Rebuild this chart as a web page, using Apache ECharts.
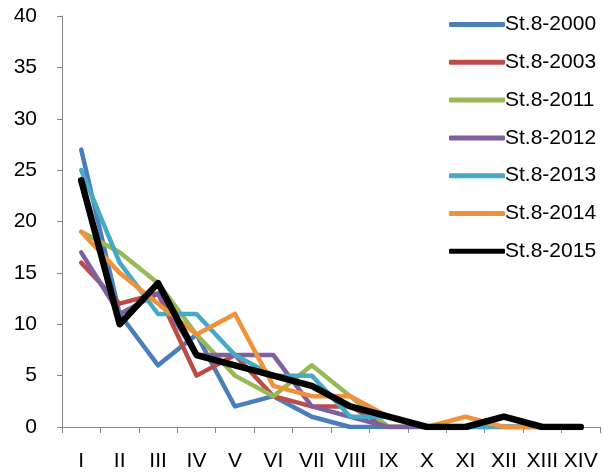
<!DOCTYPE html>
<html>
<head>
<meta charset="utf-8">
<script src="https://cdn.jsdelivr.net/npm/echarts@6/dist/echarts.min.js"></script>
<style>
html,body{margin:0;padding:0;background:#fff;}
#c{width:603px;height:475px;}
</style>
</head>
<body>
<div id="c"></div>
<script>
var categories = ['I','II','III','IV','V','VI','VII','VIII','IX','X','XI','XII','XIII','XIV'];
var yTicks = [0,5,10,15,20,25,30,35,40];
var names = ['St.8-2000','St.8-2003','St.8-2011','St.8-2012','St.8-2013','St.8-2014','St.8-2015'];
var s2000 = [27,11,6,9,2,3,1,0,0,0,0,0,0,0];
var s2003 = [16,12,13,5,7,3,2,2,0,0,0,0,0,0];
var s2011 = [19,17,14,9,5,3,6,3,0,0,0,0,0,0];
var s2012 = [17,11,13,7,7,7,2,1,0,0,0,0,0,0];
var s2013 = [25,16,11,11,7,5,5,1,1,0,0,0,0,0];
var s2014 = [19,15,12,9,11,4,3,3,1,0,1,0,0,0];
var s2015 = [24,10,14,7,6,5,4,2,1,0,0,1,0,0];

var seriesData = [s2000,s2003,s2011,s2012,s2013,s2014,s2015];
var colors = ['#4A7EBB','#BE4B48','#98B954','#7D60A0','#46AAC5','#F0913C','#000000'];
var widths = [4.5,4.5,4.5,4.5,4.5,4.5,6.5];

var FONT = 'Liberation Sans';
var chart = echarts.init(document.getElementById('c'));
chart.setOption({
  animation:false,
  backgroundColor:'#fff',
  color:colors,
  grid:{left:62,right:3,top:16,bottom:48,containLabel:false},
  legend:{
    orient:'vertical',
    left:444, top:9,
    itemWidth:56, itemHeight:5, itemGap:16.8,
    icon:'roundRect',
    textStyle:{fontFamily:FONT,fontSize:21,color:'#000',padding:[0,0,0,-5]},
    data:names
  },
  xAxis:{
    type:'category',
    data:categories,
    boundaryGap:true,
    axisLine:{lineStyle:{color:'#868686',width:1}},
    axisTick:{show:true,length:6,alignWithLabel:false,lineStyle:{color:'#868686'}},
    axisLabel:{interval:0,fontFamily:FONT,fontSize:21,color:'#000',margin:24}
  },
  yAxis:{
    type:'value',
    min:yTicks[0], max:yTicks[yTicks.length-1], interval:5,
    axisLine:{show:true,lineStyle:{color:'#868686',width:1}},
    axisTick:{show:true,length:5,lineStyle:{color:'#868686'}},
    splitLine:{show:false},
    axisLabel:{fontFamily:FONT,fontSize:21,color:'#000',margin:25}
  },
  series:names.map(function(n,i){
    return {
      name:n,type:'line',data:seriesData[i],
      symbol:'none',smooth:false,
      lineStyle:{width:widths[i],color:colors[i],cap:'round',join:'round'},
      itemStyle:{color:colors[i]}
    };
  })
});
</script>
</body>
</html>
